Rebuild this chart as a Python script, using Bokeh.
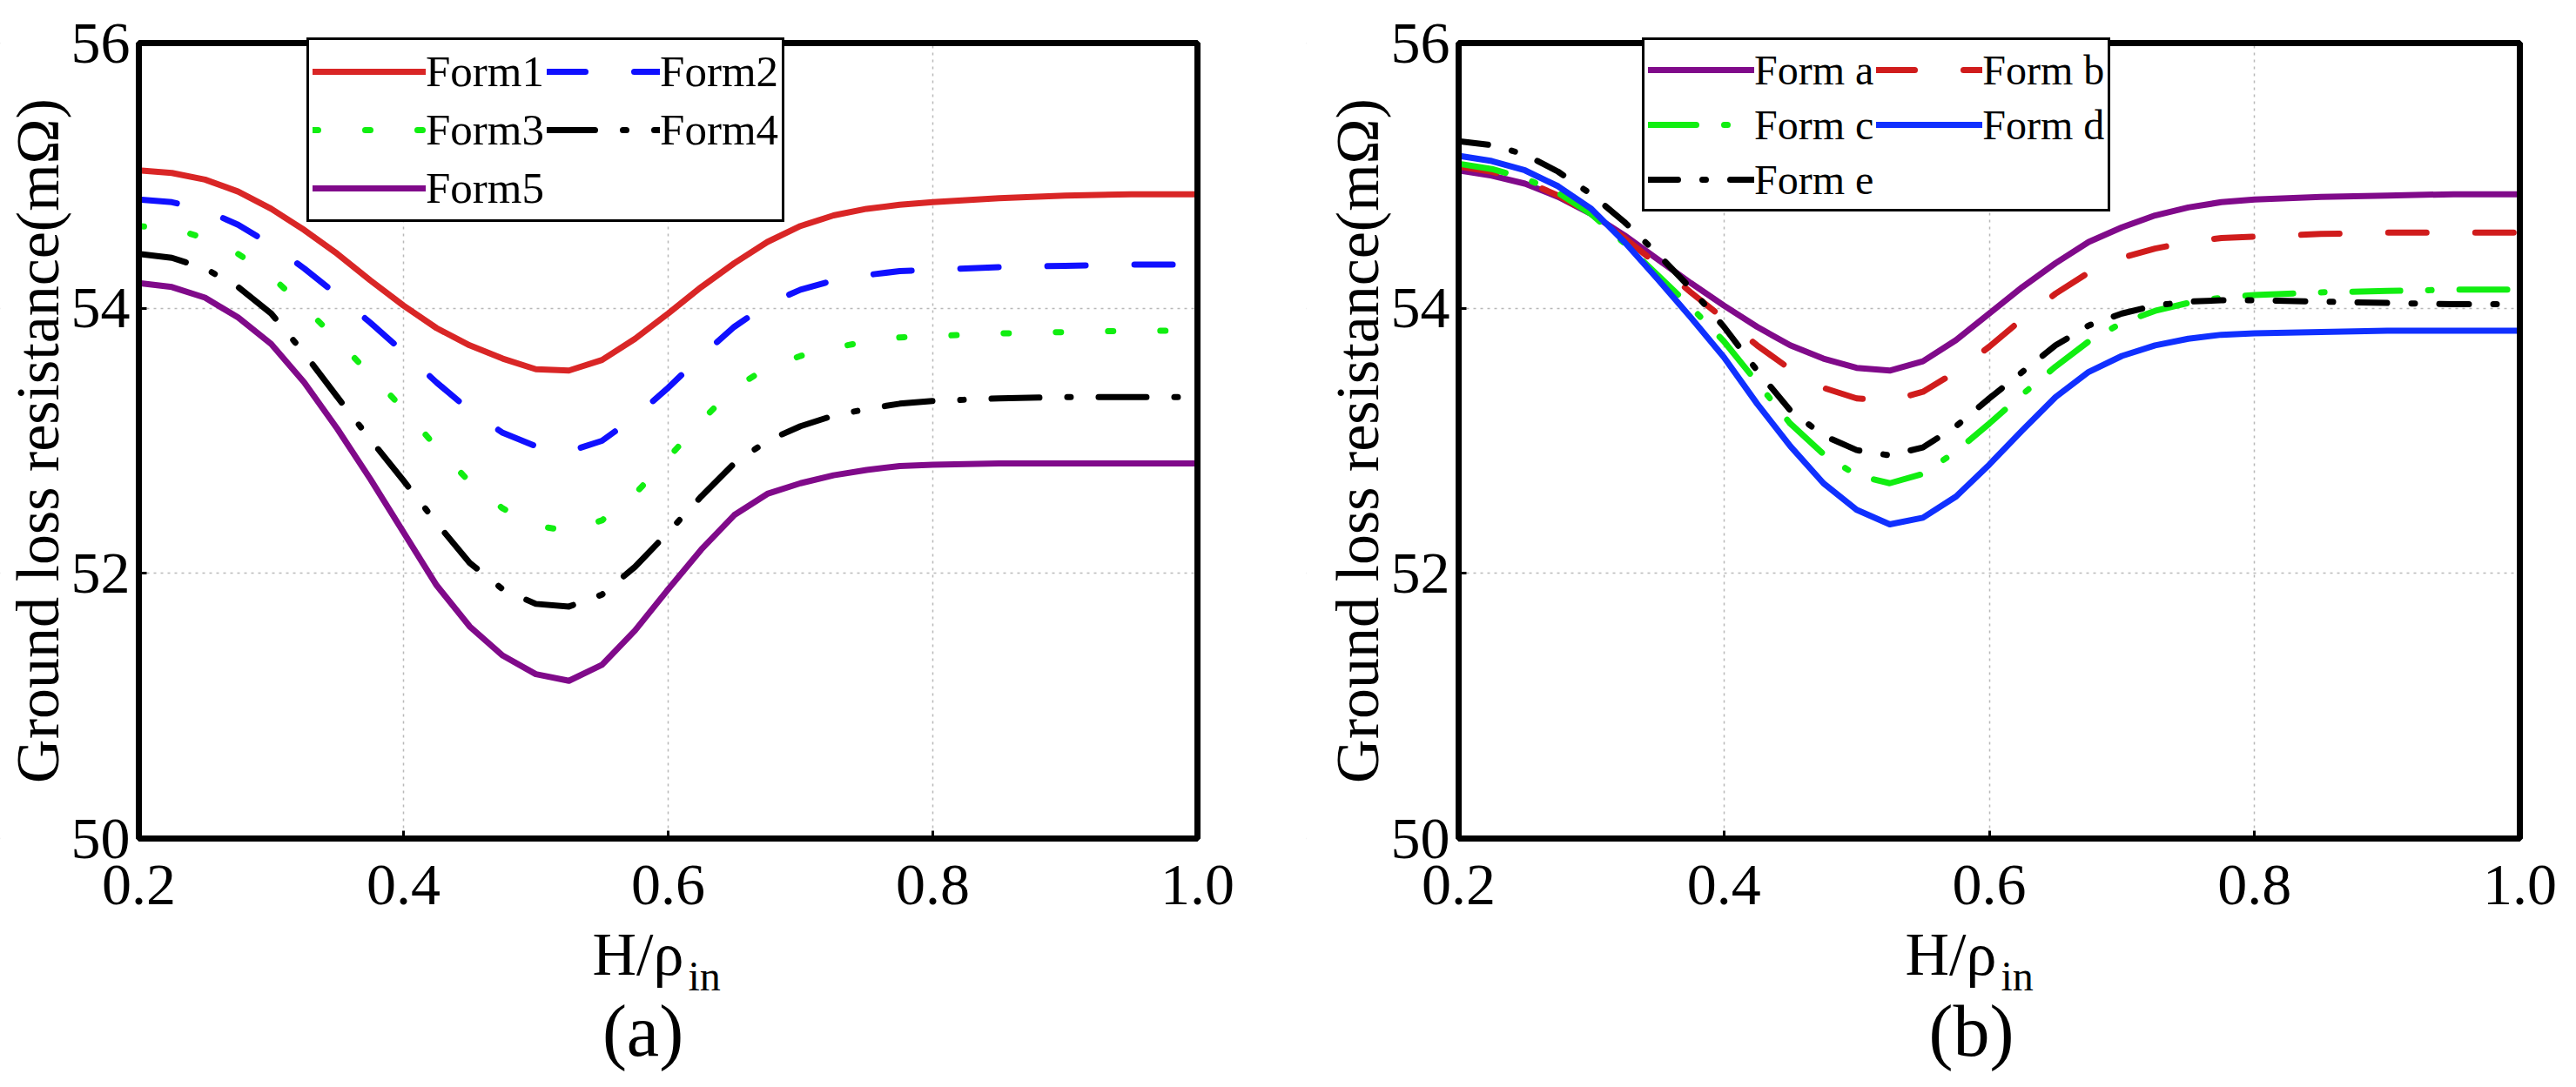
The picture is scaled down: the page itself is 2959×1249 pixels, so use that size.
from bokeh.plotting import figure
from bokeh.models import (Legend, LegendItem, Label, FixedTicker, PrintfTickFormatter,
                          BoxAnnotation)
from bokeh.layouts import row
from bokeh.embed import file_html
from bokeh.resources import INLINE

# ---------------- data ----------------
h_ratio = [0.2, 0.225, 0.25, 0.275, 0.3, 0.325, 0.35, 0.375, 0.4, 0.425, 0.45, 0.475,
           0.5, 0.525, 0.55, 0.575, 0.6, 0.625, 0.65, 0.675, 0.7, 0.725, 0.75, 0.775,
           0.8, 0.85, 0.9, 0.95, 1.0]

form1 = [55.04, 55.02, 54.97, 54.88, 54.75, 54.59, 54.41, 54.21, 54.02, 53.85, 53.72, 53.62,
         53.54, 53.53, 53.61, 53.77, 53.96, 54.16, 54.34, 54.50, 54.62, 54.70, 54.75, 54.78,
         54.80, 54.83, 54.85, 54.86, 54.86]
form2 = [54.82, 54.80, 54.74, 54.63, 54.48, 54.30, 54.10, 53.89, 53.67, 53.44, 53.23, 53.06,
         52.96, 52.92, 53.00, 53.18, 53.40, 53.64, 53.86, 54.03, 54.14, 54.21, 54.25, 54.28,
         54.29, 54.31, 54.32, 54.33, 54.33]
form3 = [54.62, 54.60, 54.53, 54.41, 54.24, 54.01, 53.76, 53.50, 53.24, 52.95, 52.69, 52.49,
         52.36, 52.32, 52.40, 52.60, 52.87, 53.15, 53.40, 53.55, 53.64, 53.70, 53.75, 53.78,
         53.79, 53.81, 53.82, 53.83, 53.83]
form4 = [54.41, 54.38, 54.30, 54.16, 53.96, 53.66, 53.33, 53.01, 52.70, 52.38, 52.08, 51.88,
         51.77, 51.75, 51.84, 52.05, 52.31, 52.58, 52.83, 53.00, 53.11, 53.19, 53.24, 53.28,
         53.30, 53.32, 53.33, 53.33, 53.33]
form5 = [54.19, 54.16, 54.08, 53.93, 53.73, 53.44, 53.09, 52.71, 52.31, 51.91, 51.60, 51.38,
         51.24, 51.19, 51.31, 51.57, 51.88, 52.18, 52.44, 52.60, 52.68, 52.74, 52.78, 52.81,
         52.82, 52.83, 52.83, 52.83, 52.83]

form_a = [55.04, 55.00, 54.94, 54.84, 54.71, 54.55, 54.37, 54.19, 54.02, 53.86, 53.72, 53.62,
          53.55, 53.53, 53.60, 53.76, 53.96, 54.16, 54.34, 54.50, 54.61, 54.70, 54.76, 54.80,
          54.82, 54.84, 54.85, 54.86, 54.86]
form_b = [55.07, 55.03, 54.96, 54.85, 54.71, 54.53, 54.33, 54.12, 53.92, 53.72, 53.54, 53.40,
          53.32, 53.30, 53.37, 53.52, 53.71, 53.92, 54.11, 54.27, 54.38, 54.45, 54.50, 54.53,
          54.54, 54.56, 54.57, 54.57, 54.57]
form_c = [55.09, 55.05, 54.98, 54.87, 54.71, 54.49, 54.25, 54.01, 53.75, 53.44, 53.13, 52.90,
          52.74, 52.68, 52.75, 52.92, 53.13, 53.35, 53.56, 53.75, 53.89, 53.98, 54.04, 54.08,
          54.10, 54.12, 54.13, 54.14, 54.14]
form_d = [55.15, 55.11, 55.04, 54.92, 54.75, 54.50, 54.22, 53.93, 53.63, 53.28, 52.96, 52.68,
          52.48, 52.37, 52.42, 52.58, 52.82, 53.08, 53.33, 53.52, 53.64, 53.72, 53.77, 53.80,
          53.81, 53.82, 53.83, 53.83, 53.83]
form_e = [55.26, 55.23, 55.16, 55.03, 54.86, 54.65, 54.41, 54.15, 53.86, 53.53, 53.23, 53.04,
          52.93, 52.89, 52.95, 53.11, 53.32, 53.52, 53.72, 53.87, 53.96, 54.02, 54.05, 54.06,
          54.06, 54.05, 54.04, 54.03, 54.03]

names_a = ["Form1", "Form2", "Form3", "Form4", "Form5"]
names_b = ["Form a", "Form b", "Form c", "Form d", "Form e"]

x_ticks = [0.2, 0.4, 0.6, 0.8, 1.0]
y_ticks = [50, 52, 54, 56]

y_title = "Ground loss resistance(mΩ)"
x_title = "H/ρ"
x_title_sub = "in"
captions = ["(a)", "(b)"]

# ---------------- styling / layout (pixels) ----------------
FONT = "Liberation Serif"
styles_a = [
    ("#d92626", "solid"),
    ("#1010ff", "44 56"),
    ("#11ee11", "6 54"),
    ("#000000", "55 32 4 32"),
    ("#800a8a", "solid"),
]
styles_b = [
    ("#800a8a", "solid"),
    ("#d01c1c", "44 56"),
    ("#11ee11", "55 32 4 32"),
    ("#1030ff", "solid"),
    ("#000000", "34 28 4 28"),
]

BOX_H = 914        # plot box height in px (50..56)
TOP_PAD = 49       # px above the plot box
BELOW = 268        # px below the plot box (tick labels, x title, caption)
TOTAL_H = TOP_PAD + BOX_H + BELOW
MID = 0.27         # text centre sits this many em above the baseline


def panel(series, names, styles, left_pad, box_w, right_pad, leg_xy, glyph_w, glyph_h,
          leg_font, lab_px, sub_px, cap_px, caption):
    y0, y1 = y_ticks[0], y_ticks[-1]
    x0, x1 = x_ticks[0], x_ticks[-1]
    ppy = (y1 - y0) / BOX_H
    ppx = (x1 - x0) / box_w
    total_w = left_pad + box_w + right_pad

    p = figure(frame_width=total_w, frame_height=TOTAL_H, min_border=0,
               x_range=(x0 - left_pad * ppx, x1 + right_pad * ppx),
               y_range=(y0 - BELOW * ppy, y1 + TOP_PAD * ppy),
               output_backend="svg", toolbar_location=None,
               background_fill_color="white", border_fill_color="white")
    p.outline_line_color = None

    items = []
    for ys, nm, (col, dash) in zip(series, names, styles):
        r = p.line(h_ratio, ys, line_color=col, line_width=7, line_dash=dash,
                   line_cap="round", line_join="round")
        items.append(LegendItem(label=nm, renderers=[r]))

    for ax in (p.xaxis[0], p.yaxis[0]):
        ax.axis_line_color = None
        ax.major_tick_in = 9
        ax.major_tick_out = 0
        ax.major_tick_line_width = 3
        ax.major_tick_line_color = "black"
        ax.minor_tick_line_color = None
        ax.major_label_text_font = FONT
        ax.major_label_text_font_size = "68px"
        ax.major_label_text_color = "black"

    p.xaxis.ticker = FixedTicker(ticks=x_ticks)
    p.xaxis.formatter = PrintfTickFormatter(format="%.1f")
    p.xaxis.major_label_standoff = 31
    p.xaxis.fixed_location = y0
    p.xaxis.bounds = (x0, x1)
    p.yaxis.ticker = FixedTicker(ticks=y_ticks)
    p.yaxis.fixed_location = x0
    p.yaxis.bounds = (y0, y1)
    p.yaxis.major_label_standoff = 10
    p.yaxis.axis_label = y_title
    p.yaxis.axis_label_text_font = FONT
    p.yaxis.axis_label_text_font_style = "normal"
    p.yaxis.axis_label_text_font_size = "70px"
    p.yaxis.axis_label_text_color = "black"
    p.yaxis.axis_label_standoff = -3

    p.xgrid.ticker = FixedTicker(ticks=x_ticks)
    p.ygrid.ticker = FixedTicker(ticks=y_ticks)
    for g in (p.xgrid[0], p.ygrid[0]):
        g.grid_line_color = "#b8b8b8"
        g.grid_line_width = 1.5
        g.grid_line_dash = "3 5"

    # white covers outside the plot box keep the grid inside the box
    for kw in ({"top": y0}, {"bottom": y1}, {"right": x0}, {"left": x1}):
        p.add_layout(BoxAnnotation(fill_color="white", fill_alpha=1.0,
                                   line_color=None, level="underlay", **kw))
    # thick black plot box
    p.add_layout(BoxAnnotation(left=x0, right=x1, bottom=y0, top=y1,
                               fill_alpha=0.0, line_color="black", line_width=7,
                               line_alpha=1.0))

    leg = Legend(items=items, orientation="horizontal", ncols=2, location=leg_xy,
                 glyph_width=glyph_w, glyph_height=glyph_h, label_height=glyph_h,
                 label_standoff=0, spacing=3, padding=4, margin=0,
                 label_text_font=FONT, label_text_font_size=leg_font,
                 label_text_color="black",
                 border_line_color="black", border_line_width=3, border_line_alpha=1.0,
                 background_fill_color="white", background_fill_alpha=1.0)
    p.add_layout(leg)

    # x title with subscript and the panel caption (px measured from the box corner,
    # to the text baseline)
    for txt, px, base, size, align in ((x_title, lab_px, 152, 70, "left"),
                                       (x_title_sub, sub_px, 171, 48, "left"),
                                       (caption, cap_px, 244, 84, "center")):
        p.add_layout(Label(x=x0 + px * ppx, y=y0 - (base - MID * size) * ppy, text=txt,
                           text_font=FONT, text_font_size=f"{size}px", text_color="black",
                           text_baseline="middle", text_align=align))
    return p


left = panel([form1, form2, form3, form4, form5], names_a, styles_a,
             159, 1216, 125, (352, BELOW + 708), 130, 64, "51px",
             521, 631, 579, captions[0])
right = panel([form_a, form_b, form_c, form_d, form_e], names_b, styles_b,
              175, 1219, 49, (386, BELOW + 720), 122, 60, "48px",
              513, 623, 589, captions[1])

layout = row(left, right, spacing=0)
open("out.html", "w").write(file_html(layout, INLINE))
